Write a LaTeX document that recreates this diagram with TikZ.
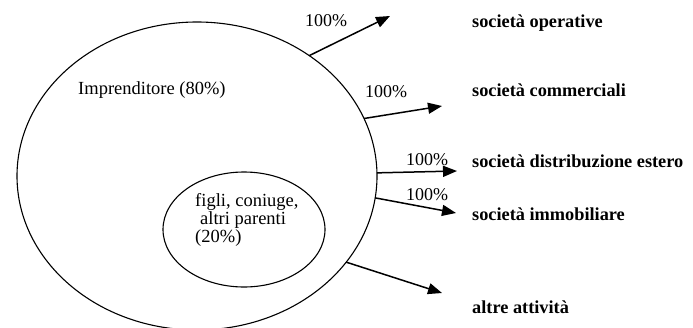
\documentclass[tikz,border=0pt]{standalone}
\usepackage{fontspec}
\setmainfont{Liberation Serif}
\usetikzlibrary{shapes.geometric,arrows.meta}
\tikzset{
  oval/.style={draw, ellipse, line width=1.1pt, inner sep=0pt, outer sep=0pt},
  conn/.style={line width=1.5pt, -{Triangle[length=14pt,width=11pt]}},
  pct/.style={font=\fontsize{18}{18}\selectfont, inner sep=0pt},
  target/.style={anchor=base west, font=\fontsize{18.3}{18}\selectfont\bfseries, inner sep=0pt},
  plain/.style={font=\fontsize{18.5}{18}\selectfont, inner sep=0pt}
}
\begin{document}
\begin{tikzpicture}[x=1pt,y=-1pt]
\useasboundingbox (0,0) rectangle (693,327);
\node[oval, minimum width=360pt, minimum height=308pt] (big) at (197,176) {};
\node[oval, minimum width=162pt, minimum height=115pt] (small) at (244,229.5) {};
\node[plain, anchor=west] (impr) at (78,90) {Imprenditore (80\%)};
\node[plain, align=left, anchor=north west] (fam) at (195,193) {figli, coniuge,\\\hspace{5pt}altri parenti\\(20\%)};
% arrow tips
\coordinate (t1) at (390,16);
\coordinate (t2) at (442,106);
\coordinate (t3) at (457,171);
\coordinate (t4) at (456,213);
\coordinate (t5) at (442,293);
\draw[conn] (big.47) -- (t1);
\draw[conn] (big.19.2) -- (t2);
\draw[conn] (big.1.6) -- (t3);
\draw[conn] (big.-7.8) -- (t4);
\draw[conn] (big.-30.7) -- (t5);
% percentages
\node[pct] (p1) at (326,21) {100\%};
\node[pct] (p2) at (386,92) {100\%};
\node[pct] (p3) at (427,160) {100\%};
\node[pct] (p4) at (427,195) {100\%};
% targets
\node[target] (s1) at (472,27) {società operative};
\node[target] (s2) at (472,96) {società commerciali};
\node[target] (s3) at (472,167) {società distribuzione estero};
\node[target] (s4) at (472,220) {società immobiliare};
\node[target] (s5) at (472,313) {altre attività};
\end{tikzpicture}
\end{document}
